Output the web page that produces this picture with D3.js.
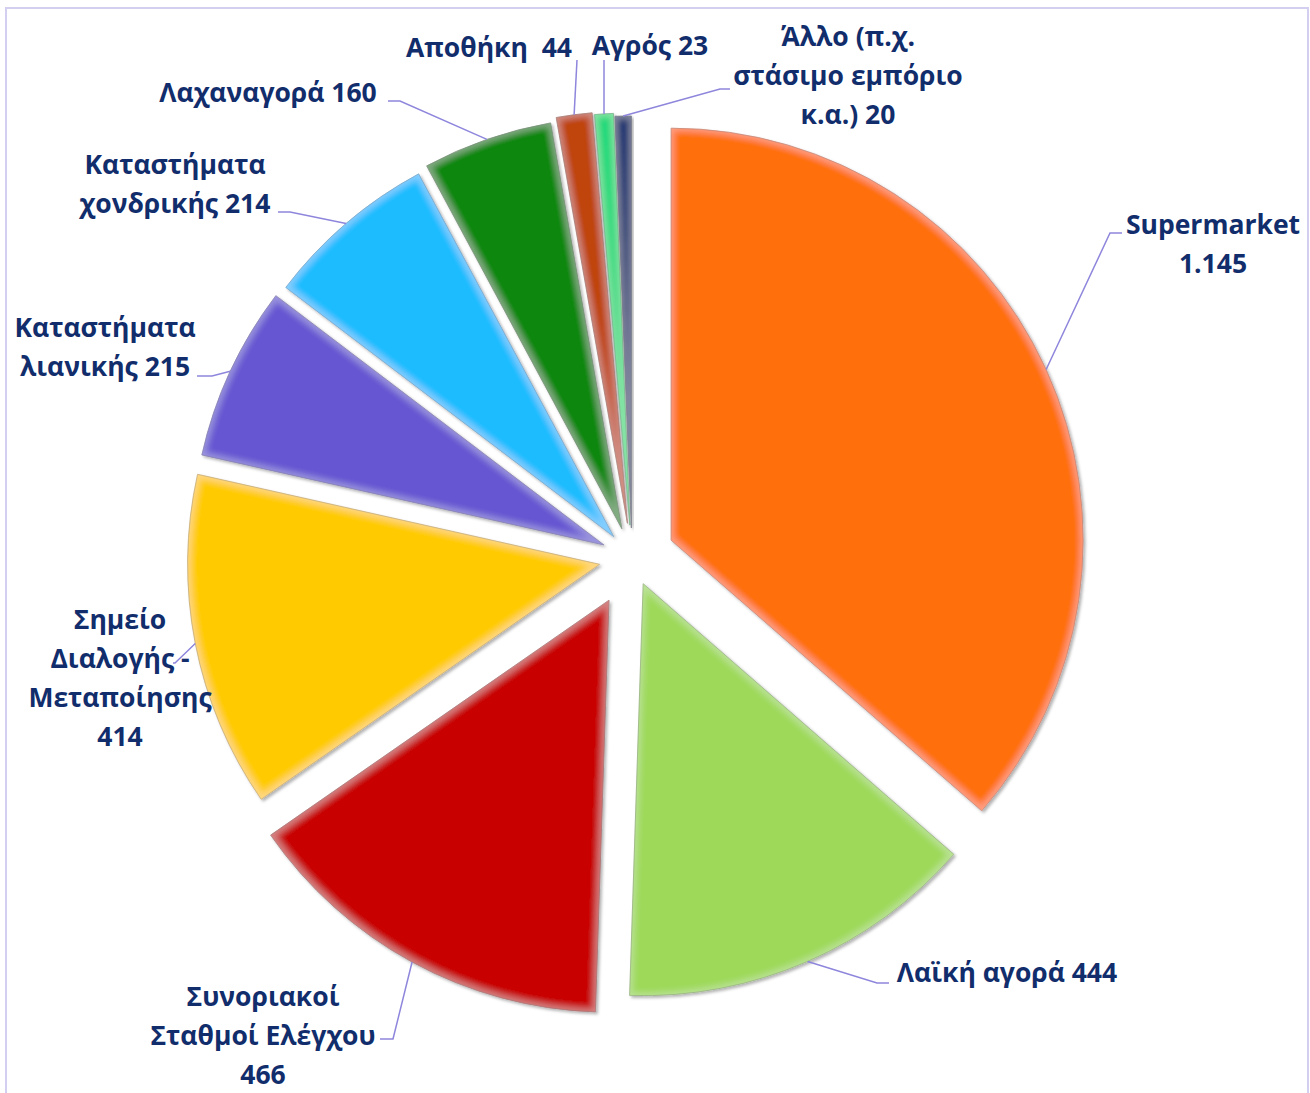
<!DOCTYPE html>
<html>
<head>
<meta charset="utf-8">
<script src="https://cdn.jsdelivr.net/npm/d3@7"></script>
<style>
  body { margin: 0; background: #fff; }
  text { font-family: 'Open Sans', 'Noto Sans', sans-serif; font-weight: 700; fill: #112d6c; }
</style>
</head>
<body>
<svg id="chart"></svg>
<script>
const WIDTH = 1310;
const HEIGHT = 1093;

// data (clockwise from 12 o'clock)
const categories = ['Supermarket', 'Λαϊκή αγορά', 'Συνοριακοί Σταθμοί Ελέγχου',
  'Σημείο Διαλογής - Μεταποίησης', 'Καταστήματα λιανικής', 'Καταστήματα χονδρικής',
  'Λαχαναγορά', 'Αποθήκη', 'Αγρός', 'Άλλο (π.χ. στάσιμο εμπόριο κ.α.)'];
const values = [1145, 444, 466, 414, 215, 214, 160, 44, 23, 20];
// label text, '\n' marks a line break, value is appended at the end
const labelNames = ['Supermarket\n', 'Λαϊκή αγορά ', 'Συνοριακοί\nΣταθμοί Ελέγχου\n',
  'Σημείο\nΔιαλογής -\nΜεταποίησης\n', 'Καταστήματα\nλιανικής ', 'Καταστήματα\nχονδρικής ',
  'Λαχαναγορά ', 'Αποθήκη  ', 'Αγρός ', 'Άλλο (π.χ.\nστάσιμο εμπόριο\nκ.α.) '];
const colors = ['#ff700a', '#9fd95a', '#c80404', '#ffcb05', '#6656d2', '#1ebcff',
  '#08870c', '#bf4510', '#22d97a', '#12306f'];

// layout
const CX = 632;
const CY = 558;
const RADIUS = 412;
const explode = [43, 28, 48, 33, 31, 28, 31, 35, 33, 30];
const LINE_H = 39;
const FONT_SIZE = 26.5;
// label centre x and first line centre y
const labelPos = [[1213, 225], [1007, 973], [263, 997], [120, 620], [105, 328],
  [175, 165], [268, 93], [489, 48], [650, 46], [848, 37]];
// leader line points after the arc anchor
const leaderPts = [
  [[1110, 233], [1122, 233]],
  [[877, 983], [889, 983]],
  [[393, 1039], [380, 1039]],
  [[175, 663], [173, 663]],
  [[212, 376], [197, 376]],
  [[290, 212], [278, 212]],
  [[400, 101], [388, 101]],
  [[577, 60]],
  [[604, 60]],
  [[720, 89], [730, 89]]
];

const greek = d3.formatLocale({ decimal: ',', thousands: '.', grouping: [3], currency: ['', '€'] });
const fmt = greek.format(',d');

const svg = d3.select('#chart').attr('width', WIDTH).attr('height', HEIGHT);

const defs = svg.append('defs');
const bevel = defs.append('filter').attr('id', 'bevel')
  .attr('x', '-10%').attr('y', '-10%').attr('width', '120%').attr('height', '120%');
bevel.append('feMorphology').attr('in', 'SourceAlpha').attr('operator', 'erode').attr('radius', 3).attr('result', 'eroded');
bevel.append('feGaussianBlur').attr('in', 'eroded').attr('stdDeviation', 3).attr('result', 'soft');
bevel.append('feComposite').attr('in', 'SourceAlpha').attr('in2', 'soft').attr('operator', 'out').attr('result', 'rim');
bevel.append('feFlood').attr('flood-color', '#ffffff').attr('flood-opacity', 0.22);
bevel.append('feComposite').attr('in2', 'rim').attr('operator', 'in').attr('result', 'rimLight');
bevel.append('feGaussianBlur').attr('in', 'SourceAlpha').attr('stdDeviation', 1.5).attr('result', 'shBlur');
bevel.append('feOffset').attr('in', 'shBlur').attr('dx', 1.5).attr('dy', 1.5).attr('result', 'shOff');
bevel.append('feFlood').attr('flood-color', '#000').attr('flood-opacity', 0.3);
bevel.append('feComposite').attr('in2', 'shOff').attr('operator', 'in').attr('result', 'shadow');
const merge = bevel.append('feMerge');
merge.append('feMergeNode').attr('in', 'shadow');
merge.append('feMergeNode').attr('in', 'SourceGraphic');
merge.append('feMergeNode').attr('in', 'rimLight');

// chart area border
svg.append('rect')
  .attr('x', 6).attr('y', 8).attr('width', WIDTH - 8).attr('height', HEIGHT + 20)
  .attr('fill', 'none').attr('stroke', '#d3cff1').attr('stroke-width', 2);

const pie = d3.pie().sort(null).startAngle(0).endAngle(2 * Math.PI);
const arcs = pie(values);
const arc = d3.arc().innerRadius(0).outerRadius(RADIUS);

const offsetOf = (d, i) => {
  const mid = (d.startAngle + d.endAngle) / 2;
  return [CX + explode[i] * Math.sin(mid), CY - explode[i] * Math.cos(mid)];
};

const slices = svg.append('g').selectAll('g.slice')
  .data(arcs)
  .join('g')
  .attr('class', 'slice')
  .attr('transform', (d, i) => `translate(${offsetOf(d, i)})`);

slices.append('path')
  .attr('d', arc)
  .attr('fill', (d, i) => colors[i])
  .attr('stroke', (d, i) => d3.color(colors[i]).darker(0.9))
  .attr('stroke-width', 0.8)
  .attr('filter', 'url(#bevel)');

// leader lines
const leaders = svg.append('g');
arcs.forEach((d, i) => {
  const mid = (d.startAngle + d.endAngle) / 2;
  const [ox, oy] = offsetOf(d, i);
  const start = [ox + RADIUS * Math.sin(mid), oy - RADIUS * Math.cos(mid)];
  leaders.append('path')
    .attr('d', d3.line()([start, ...leaderPts[i]]))
    .attr('fill', 'none')
    .attr('stroke', '#8e86dc')
    .attr('stroke-width', 1.5);
});

// labels
const labels = svg.append('g');
arcs.forEach((d, i) => {
  const lines = (labelNames[i] + fmt(values[i])).split('\n');
  const t = labels.append('text')
    .attr('x', labelPos[i][0])
    .attr('y', labelPos[i][1])
    .attr('text-anchor', 'middle')
    .attr('font-size', FONT_SIZE)
    .style('white-space', 'pre');
  lines.forEach((line, j) => {
    t.append('tspan')
      .attr('x', labelPos[i][0])
      .attr('y', labelPos[i][1] + j * LINE_H)
      .attr('dy', '0.35em')
      .text(line);
  });
});
</script>
</body>
</html>
